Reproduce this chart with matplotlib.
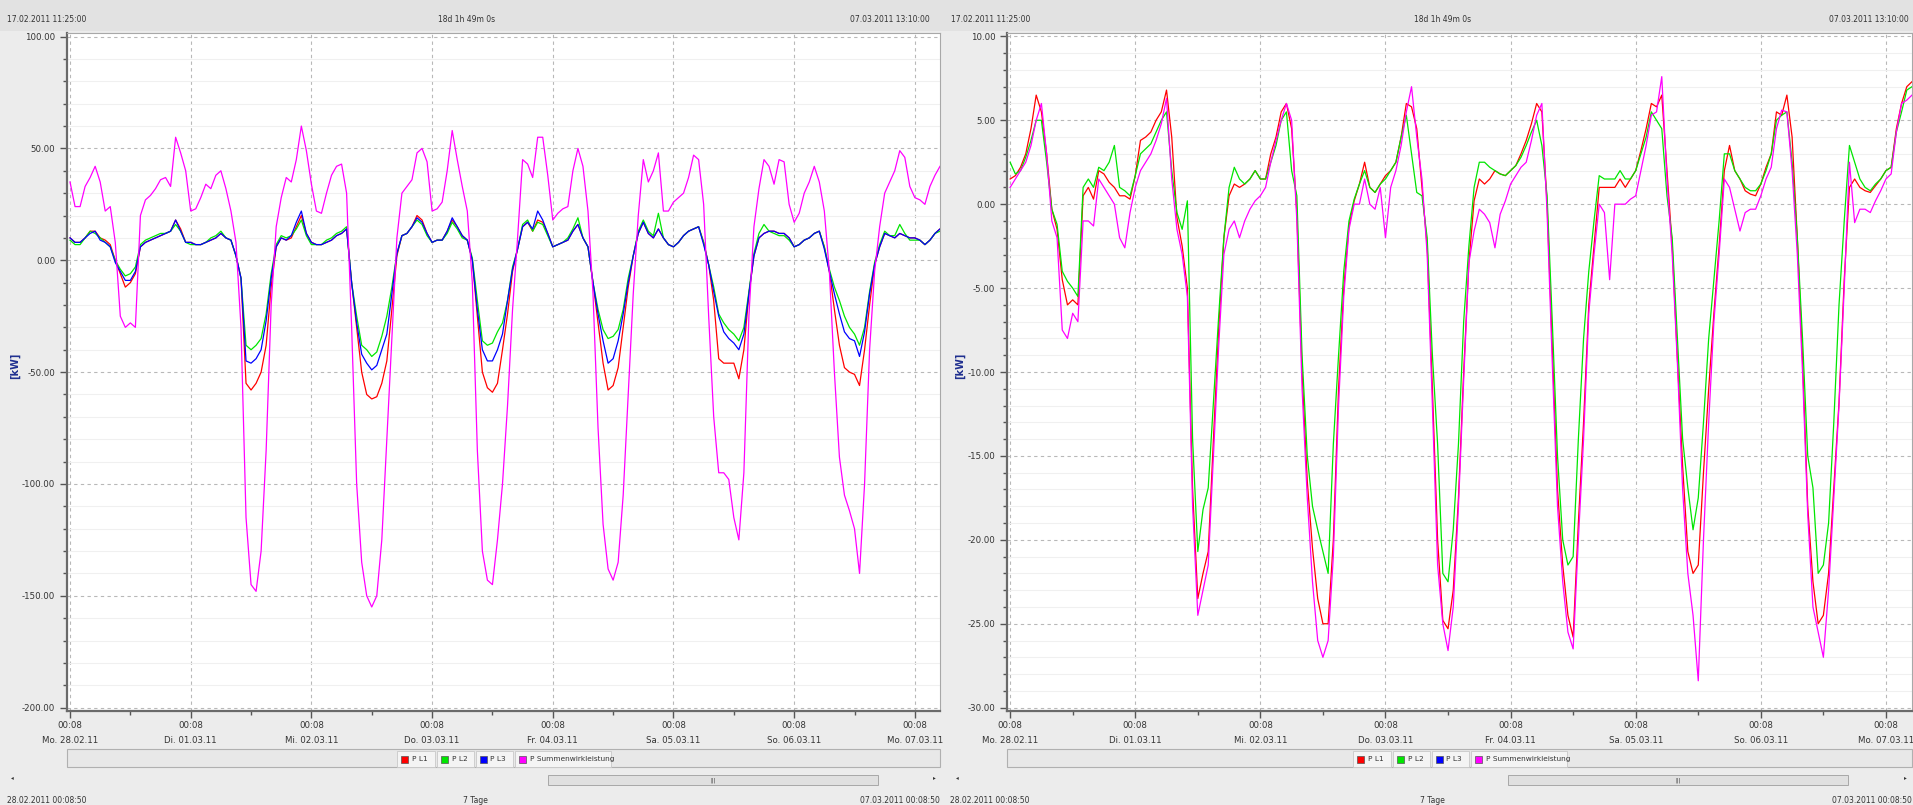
import numpy as np
import matplotlib
matplotlib.use('Agg')
import matplotlib.pyplot as plt
from matplotlib.patches import Rectangle
from matplotlib.ticker import MultipleLocator, FormatStrFormatter

W, H = 1913, 805

day_labels = ['Mo. 28.02.11', 'Di. 01.03.11', 'Mi. 02.03.11', 'Do. 03.03.11',
              'Fr. 04.03.11', 'Sa. 05.03.11', 'So. 06.03.11', 'Mo. 07.03.11']
series_names = ['P L1', 'P L2', 'P L3', 'P Summenwirkleistung']
series_colors = ['#ff0000', '#00e600', '#0000ff', '#ff00ff']

# hourly readings [kW], first value = Mo 28.02.11 00:08
# left chart
left_l1 = [10, 8, 8, 10, 13, 13, 10, 9, 7, 0, -6, -12, -10, -6, 6, 8, 9, 10, 11, 12, 13, 18, 14, 8,
           8, 7, 7, 8, 9, 10, 12, 10, 9, 2, -8, -55, -58, -55, -50, -38, -12, 6, 10, 9, 10, 15, 20, 12,
           8, 7, 7, 8, 9, 11, 12, 14, -10, -30, -50, -60, -62, -61, -55, -45, -22, 2, 11, 12, 15, 20, 18, 12,
           8, 9, 9, 13, 18, 15, 11, 9, 0, -25, -50, -57, -59, -55, -40, -24, -5, 5, 15, 17, 13, 18, 17, 12,
           6, 7, 8, 9, 13, 16, 10, 6, -10, -28, -46, -58, -56, -48, -30, -12, 2, 12, 17, 12, 10, 14, 10, 7,
           6, 8, 11, 13, 14, 15, 8, -2, -18, -44, -46, -46, -46, -53, -40, -15, 2, 10, 12, 13, 13, 12, 12, 10,
           6, 7, 9, 10, 12, 13, 6, -5, -22, -38, -48, -50, -51, -56, -40, -20, -2, 6, 12, 11, 10, 12, 11, 10,
           10, 9, 7, 9, 12, 14]
left_l2 = [9, 7, 7, 10, 13, 12, 10, 8, 6, 0, -4, -7, -6, -3, 7, 9, 10, 11, 12, 12, 13, 16, 13, 8,
           7, 7, 7, 8, 10, 11, 13, 10, 9, 2, -8, -38, -40, -38, -35, -24, -6, 7, 11, 10, 11, 14, 18, 11,
           7, 7, 7, 9, 10, 12, 13, 15, -10, -25, -38, -40, -43, -41, -34, -25, -12, 3, 11, 12, 15, 18, 16, 11,
           8, 9, 9, 12, 17, 14, 10, 9, 1, -18, -36, -38, -37, -32, -28, -18, -3, 5, 16, 18, 13, 17, 16, 11,
           6, 7, 8, 10, 14, 19, 10, 6, -10, -22, -31, -35, -34, -31, -22, -8, 2, 13, 18, 13, 11, 21, 10, 7,
           6, 8, 11, 13, 14, 15, 8, -2, -12, -24, -28, -31, -33, -36, -30, -14, 3, 12, 16, 13, 12, 11, 11, 9,
           6, 7, 9, 10, 12, 13, 6, -4, -12, -18, -25, -30, -33, -38, -30, -14, -1, 7, 13, 11, 11, 16, 12, 9,
           9, 9, 7, 9, 12, 13]
left_l3 = [10, 8, 8, 10, 12, 13, 9, 8, 6, -1, -5, -9, -9, -5, 6, 8, 9, 10, 11, 12, 13, 18, 13, 8,
           8, 7, 7, 8, 9, 10, 12, 10, 9, 2, -8, -45, -46, -44, -40, -27, -8, 6, 10, 9, 11, 17, 22, 12,
           8, 7, 7, 8, 9, 11, 12, 14, -10, -28, -42, -46, -49, -47, -40, -33, -15, 3, 11, 12, 15, 19, 17, 12,
           8, 9, 9, 13, 19, 15, 11, 9, 0, -22, -40, -45, -45, -40, -33, -18, -4, 5, 15, 17, 14, 22, 18, 12,
           6, 7, 8, 9, 13, 16, 10, 6, -10, -24, -36, -46, -44, -36, -24, -10, 2, 12, 17, 12, 10, 14, 10, 7,
           6, 8, 11, 13, 14, 15, 7, -2, -14, -25, -32, -35, -37, -40, -33, -15, 2, 10, 12, 13, 13, 12, 12, 10,
           6, 7, 9, 10, 12, 13, 5, -5, -15, -24, -32, -35, -36, -43, -32, -15, -2, 6, 12, 11, 10, 12, 11, 10,
           10, 9, 7, 9, 12, 14]
left_sum = [35, 24, 24, 33, 37, 42, 35, 22, 24, 8, -25, -30, -28, -30, 20, 27, 29, 32, 36, 37, 33, 55, 48, 40,
            22, 23, 28, 34, 32, 38, 40, 32, 22, 8, -30, -115, -145, -148, -130, -85, -20, 15, 28, 37, 35, 45, 60, 49,
            34, 22, 21, 30, 38, 42, 43, 30, -30, -100, -135, -150, -155, -150, -125, -80, -35, 10, 30, 33, 36, 48, 50, 44,
            22, 23, 26, 40, 58, 45, 33, 22, -10, -85, -130, -143, -145, -125, -100, -65, -22, 10, 45, 43, 37, 55, 55, 38,
            18, 21, 23, 24, 40, 50, 42, 22, -15, -75, -118, -138, -143, -135, -105, -60, -15, 20, 45, 35, 40, 48, 22, 22,
            26, 28, 30, 37, 47, 45, 25, -25, -70, -95, -95, -98, -115, -125, -95, -25, 15, 32, 45, 42, 34, 45, 44, 25,
            17, 21, 30, 35, 42, 35, 22, -5, -50, -88, -105, -112, -120, -140, -100, -40, -5, 15, 30, 35, 40, 49, 46, 33,
            28, 27, 25, 33, 38, 42]

# right chart (P L3 is hidden under the sum line there)
right_l1 = [1.5, 1.7, 2.2, 3.0, 4.5, 6.5, 5.5, 3.0, -0.3, -1.5, -4.5, -6.0, -5.7, -6.0, 0.5, 1.0, 0.3, 2.0, 1.8, 1.3, 1.0, 0.5, 0.5, 0.3,
            1.7, 3.8, 4.0, 4.3, 5.0, 5.5, 6.8, 4.0, -0.8, -2.5, -5.0, -17.0, -23.5, -22.0, -20.7, -14.0, -7.5, -2.0, 0.5, 1.2, 1.0, 1.2, 1.5, 2.0,
            1.5, 1.5, 3.0, 4.0, 5.5, 6.0, 4.5, -0.5, -10.0, -16.5, -20.5, -23.5, -25.0, -25.0, -20.0, -11.0, -5.0, -1.3, 0.2, 1.2, 2.5, 1.0, 0.7, 1.2,
            1.7, 2.0, 2.5, 4.0, 6.0, 5.8, 4.5, 1.0, -2.5, -11.0, -20.0, -24.8, -25.3, -23.0, -17.5, -10.0, -3.5, 0.2, 1.5, 1.2, 1.5, 2.0, 1.8, 1.7,
            2.0, 2.3, 3.0, 3.8, 4.8, 6.0, 5.5, 0.0, -8.5, -17.0, -21.5, -24.5, -25.8, -19.0, -13.0, -6.0, -2.5, 1.0, 1.0, 1.0, 1.0, 1.5, 1.0, 1.5,
            2.0, 3.2, 4.5, 6.0, 5.8, 6.5, 2.0, -2.5, -9.2, -15.6, -20.7, -22.0, -21.5, -16.0, -11.0, -6.5, -2.5, 2.0, 3.5, 2.0, 1.5, 0.8, 0.6, 0.5,
            1.2, 2.2, 3.0, 5.5, 5.3, 6.5, 4.0, -2.0, -9.2, -18.0, -22.5, -25.0, -24.5, -22.0, -16.9, -11.8, -4.5, 1.0, 1.5, 1.0, 0.8, 0.7, 1.1, 1.5,
            2.0, 2.2, 4.5, 6.0, 7.0, 7.3]
right_l2 = [2.5, 1.8, 2.0, 2.8, 3.8, 5.0, 5.0, 2.5, -0.3, -1.2, -4.0, -4.6, -5.0, -5.5, 1.0, 1.5, 1.0, 2.2, 2.0, 2.5, 3.5, 1.0, 0.8, 0.5,
            1.7, 3.0, 3.3, 3.6, 4.3, 5.0, 5.5, 2.0, -0.5, -1.5, 0.2, -14.0, -20.7, -18.2, -16.9, -11.8, -6.7, -2.0, 1.0, 2.2, 1.5, 1.2, 1.5, 2.0,
            1.5, 1.5, 2.5, 3.5, 5.0, 5.5, 2.0, 0.5, -9.0, -15.0, -18.0, -19.4, -20.7, -22.0, -14.3, -9.0, -4.0, -1.0, 0.3, 1.2, 2.0, 1.0, 0.7, 1.2,
            1.5, 2.0, 2.5, 4.0, 5.3, 3.0, 0.7, 0.5, -2.0, -9.0, -14.3, -22.0, -22.5, -19.4, -14.3, -7.0, -2.5, 1.0, 2.5, 2.5, 2.2, 2.0, 1.8, 1.7,
            2.0, 2.3, 2.8, 3.5, 4.3, 5.0, 3.5, 0.5, -7.0, -15.0, -20.0, -21.5, -21.0, -14.0, -8.0, -4.0, -1.0, 1.7, 1.5, 1.5, 1.5, 2.0, 1.5, 1.5,
            2.0, 3.0, 4.0, 5.5, 5.0, 4.5, 0.5, -2.0, -8.0, -14.0, -16.9, -19.4, -17.5, -13.0, -8.0, -4.5, -1.0, 3.0, 3.0, 2.0, 1.5, 1.0, 0.8, 0.8,
            1.2, 2.0, 3.0, 5.0, 5.3, 5.5, 2.5, -2.0, -8.0, -15.0, -16.9, -22.0, -21.5, -19.0, -13.0, -6.0, -1.0, 3.5, 2.5, 1.5, 1.0, 0.8, 1.2, 1.5,
            2.0, 2.2, 4.3, 5.5, 6.8, 7.0]
right_sum = [1.0, 1.5, 2.0, 2.5, 3.5, 5.0, 6.0, 3.0, -1.0, -2.0, -7.5, -8.0, -6.5, -7.0, -1.0, -1.0, -1.3, 1.5, 1.0, 0.5, 0.0, -2.0, -2.6, -0.5,
             1.0, 2.0, 2.5, 3.0, 3.8, 4.8, 6.3, 1.5, -1.5, -3.0, -5.5, -18.0, -24.5, -23.0, -21.5, -15.0, -8.5, -3.0, -1.5, -1.0, -2.0, -1.0, -0.3, 0.2,
             0.5, 1.0, 2.5, 3.8, 5.0, 6.0, 5.0, -1.0, -11.0, -17.5, -22.5, -26.0, -27.0, -26.0, -21.0, -12.0, -5.5, -1.5, 0.0, 0.0, 1.5, 0.0, -0.3, 1.0,
             -2.0, 1.0, 2.0, 3.5, 5.5, 7.0, 4.0, 1.5, -3.0, -12.0, -21.5, -25.0, -26.6, -24.0, -18.0, -10.5, -3.5, -1.6, -0.3, -0.6, -1.1, -2.6, -0.6, 0.2,
             1.2, 1.7, 2.2, 2.5, 3.8, 5.3, 6.0, -0.5, -9.5, -18.0, -22.5, -25.5, -26.5, -20.0, -14.0, -6.5, -3.0, 0.0, -0.5, -4.5, 0.0, 0.0, 0.0, 0.3,
             0.5, 2.0, 3.5, 5.3, 5.5, 7.6, 1.5, -3.0, -9.5, -17.0, -22.0, -24.5, -28.4, -20.0, -13.0, -7.0, -3.0, 1.5, 1.0, -0.3, -1.6, -0.5, -0.3, -0.3,
             0.5, 1.5, 2.2, 4.5, 5.6, 5.5, 2.0, -3.0, -10.0, -18.5, -24.0, -25.5, -27.0, -23.0, -17.5, -12.0, -5.0, 2.5, -1.1, -0.3, -0.3, -0.5, 0.2, 0.8,
             1.5, 1.8, 4.3, 6.0, 6.2, 6.5]

hours = np.arange(len(left_l1))

plt.rcParams['font.family'] = 'DejaVu Sans'
fig = plt.figure(figsize=(W / 100, H / 100), dpi=100)
fig.patch.set_facecolor('#ececec')


def box(x0, y0, x1, y1, **kw):
    fig.add_artist(Rectangle((x0 / W, 1 - y1 / H), (x1 - x0) / W, (y1 - y0) / H,
                             transform=fig.transFigure, **kw))


def txt(x, y, s, ha='left', size=5.5, **kw):
    fig.text(x / W, 1 - y / H, s, ha=ha, va='center', fontsize=size, color='#333333', **kw)


# title strip
box(0, 0, W, 31, facecolor='#e2e2e2', edgecolor='none')


def panel(x0, x1, data, ylim, major, minor, hdr):
    ax = fig.add_axes([x0 / W, 1 - 711 / H, (x1 - x0) / W, (711 - 33) / H])
    ax.set_facecolor('white')
    for vals, col in zip(data, series_colors):
        if vals is not None:
            ax.plot(hours, vals, color=col, lw=0.9)
    ax.set_xlim(-0.6, 173.0)
    ax.set_ylim(*ylim)
    ax.yaxis.set_major_locator(MultipleLocator(major))
    ax.yaxis.set_minor_locator(MultipleLocator(minor))
    ax.yaxis.set_major_formatter(FormatStrFormatter('%.2f'))
    ax.set_xticks(np.arange(0, 169, 24))
    ax.set_xticks(np.arange(12, 169, 24), minor=True)
    ax.set_xticklabels(['00:08\n' + d for d in day_labels], linespacing=1.9)
    ax.grid(which='major', color='#b8b8b8', ls=(0, (3, 3)), lw=0.8)
    ax.grid(which='minor', axis='y', color='#f0f0f0', ls='-', lw=0.8)
    ax.set_axisbelow(True)
    ax.tick_params(which='both', direction='out', colors='#555555', labelcolor='#333333', labelsize=6.2)
    ax.tick_params(which='major', length=5, width=1)
    ax.tick_params(which='minor', length=3, width=1)
    ax.tick_params(axis='x', pad=2)
    for s in ['left', 'bottom']:
        ax.spines[s].set_color('#6a6a6a')
        ax.spines[s].set_linewidth(1.6)
    for s in ['top', 'right']:
        ax.spines[s].set_color('#a8a8a8')
        ax.spines[s].set_linewidth(0.8)

    # header texts
    txt(hdr[0], 19, '17.02.2011 11:25:00')
    txt(hdr[1], 19, '18d 1h 49m 0s', ha='center')
    txt(hdr[2], 19, '07.03.2011 13:10:00', ha='right')
    return ax


panel(67, 940, [left_l1, left_l2, left_l3, left_sum], (-201.5, 101.6), 50, 10, (7, 467, 930))
panel(1007, 1912, [right_l1, right_l2, None, right_sum], (-30.2, 10.2), 5, 1, (951, 1443, 1909))

# y labels
for xl in (15, 960):
    fig.text(xl / W, 1 - 366 / H, '[kW]', rotation=90, ha='center', va='center',
             fontsize=7, fontweight='bold', color='#1f2f8f')

# legend strips
item_w = [38, 37, 37, 96]
for (bx0, bx1) in [(67, 940), (1007, 1912)]:
    box(bx0, 749, bx1, 767, facecolor='#e8e8e8', edgecolor='#b0b0b0', lw=0.8)
    total = sum(item_w) + 3 * 2
    cx = (bx0 + bx1) / 2 - total / 2
    for name, col, wd in zip(series_names, series_colors, item_w):
        box(cx, 751, cx + wd, 767, facecolor='#f4f4f4', edgecolor='#c8c8c8', lw=0.6)
        box(cx + 4, 755.5, cx + 11, 762.5, facecolor=col, edgecolor='#555555', lw=0.5)
        txt(cx + 15, 759, name, size=5.3)
        cx += wd + 2

# scroll bars
for (s0, s1, grip) in [(548, 878, 713), (1508, 1848, 1678)]:
    box(s0, 775, s1, 785, facecolor='#e0e0e0', edgecolor='#a8a8a8', lw=0.7)
    txt(grip, 780, '|||', ha='center', size=3.5)
for (xa, s) in [(12, '\u25c2'), (934, '\u25b8'), (957, '\u25c2'), (1905, '\u25b8')]:
    txt(xa, 778, s, ha='center', size=4)

# footer
txt(7, 800, '28.02.2011 00:08:50')
txt(475, 800, '7 Tage', ha='center')
txt(940, 800, '07.03.2011 00:08:50', ha='right')
txt(950, 800, '28.02.2011 00:08:50')
txt(1432, 800, '7 Tage', ha='center')
txt(1912, 800, '07.03.2011 00:08:50', ha='right')

fig.savefig('out.png', dpi=100, facecolor=fig.get_facecolor())
